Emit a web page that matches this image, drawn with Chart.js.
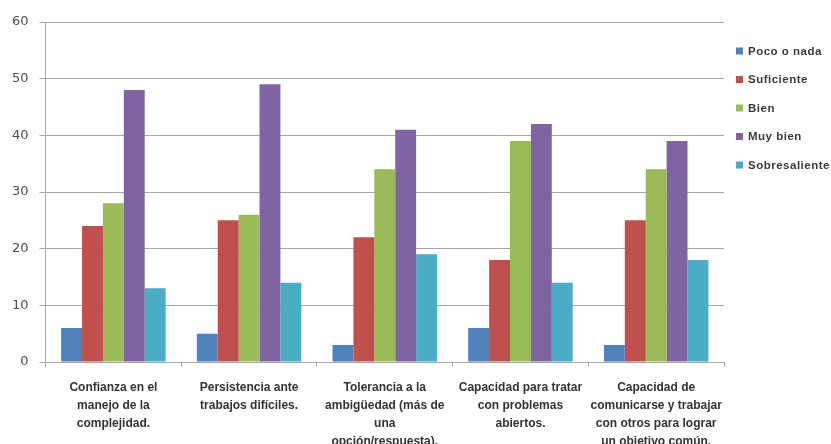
<!DOCTYPE html>
<html>
<head>
<meta charset="utf-8">
<script src="https://cdn.jsdelivr.net/npm/chart.js@4/dist/chart.umd.min.js"></script>
<style>
  html, body { margin: 0; padding: 0; background: #fff; }
  #wrap { width: 831px; height: 444px; }
</style>
</head>
<body>
<div id="wrap"><canvas id="c" width="831" height="444"></canvas></div>
<script>
// Competencias evaluadas (etiquetas en varias líneas)
const categories = [
  ['Confianza en el', 'manejo de la', 'complejidad.'],
  ['Persistencia ante', 'trabajos difíciles.'],
  ['Tolerancia a la', 'ambigüedad (más de', 'una', 'opción/respuesta).'],
  ['Capacidad para tratar', 'con problemas', 'abiertos.'],
  ['Capacidad de', 'comunicarse y trabajar', 'con otros para lograr', 'un objetivo común.']
];

const seriesNames = ['Poco o nada', 'Suficiente', 'Bien', 'Muy bien', 'Sobresaliente'];

const pocoONada     = [6, 5, 3, 6, 3];
const suficiente    = [24, 25, 22, 18, 25];
const bien          = [28, 26, 34, 39, 34];
const muyBien       = [48, 49, 41, 42, 39];
const sobresaliente = [13, 14, 19, 14, 18];

const yTicks = [0, 10, 20, 30, 40, 50, 60];

const seriesColors = ['#4F81BD', '#C0504D', '#9BBB59', '#8064A2', '#4BACC6'];
const seriesValues = [pocoONada, suficiente, bien, muyBien, sobresaliente];

const datasets = seriesNames.map((name, i) => ({
  label: name,
  data: seriesValues[i],
  backgroundColor: seriesColors[i],
  borderWidth: 0,
  categoryPercentage: 0.77,
  barPercentage: 1.0
}));

const gridGrey = '#a6a6a6';

// Leyenda vertical a la derecha del área de trazado
const sideLegend = {
  id: 'sideLegend',
  afterDraw(chart) {
    const ctx = chart.ctx;
    const x = chart.chartArea.right + 12;
    let y = 51;
    ctx.save();
    ctx.font = 'bold 11.5px "Liberation Sans", sans-serif';
    ctx.letterSpacing = '0.5px';
    ctx.textBaseline = 'middle';
    ctx.textAlign = 'left';
    chart.data.datasets.forEach(ds => {
      ctx.fillStyle = ds.backgroundColor;
      ctx.fillRect(x, y - 3.5, 7, 7);
      ctx.fillStyle = '#3a3a3a';
      ctx.fillText(ds.label, x + 12, y + 0.5);
      y += 28.5;
    });
    ctx.restore();
  }
};

new Chart(document.getElementById('c'), {
  type: 'bar',
  data: { labels: categories, datasets },
  plugins: [sideLegend],
  options: {
    responsive: false,
    animation: false,
    devicePixelRatio: 1,
    layout: { padding: { top: 22, left: 1, right: 107, bottom: -19 } },
    plugins: {
      tooltip: { enabled: false },
      legend: { display: false }
    },
    scales: {
      x: {
        grid: {
          offset: true,
          drawOnChartArea: false,
          color: gridGrey,
          tickLength: 5
        },
        border: { color: gridGrey, width: 1 },
        ticks: {
          color: '#333',
          padding: 12,
          maxRotation: 0,
          autoSkip: false,
          font: { family: "'Liberation Sans', sans-serif", size: 12, weight: 'bold', lineHeight: '18px' }
        }
      },
      y: {
        min: 0,
        max: 60,
        afterBuildTicks: (axis) => { axis.ticks = yTicks.map(v => ({ value: v })); },
        grid: { color: gridGrey, tickLength: 6 },
        border: { color: gridGrey, width: 1 },
        ticks: {
          color: '#4d4d4d',
          padding: 11,
          font: { family: 'DejaVu Sans', size: 13 }
        }
      }
    }
  }
});
</script>
</body>
</html>
